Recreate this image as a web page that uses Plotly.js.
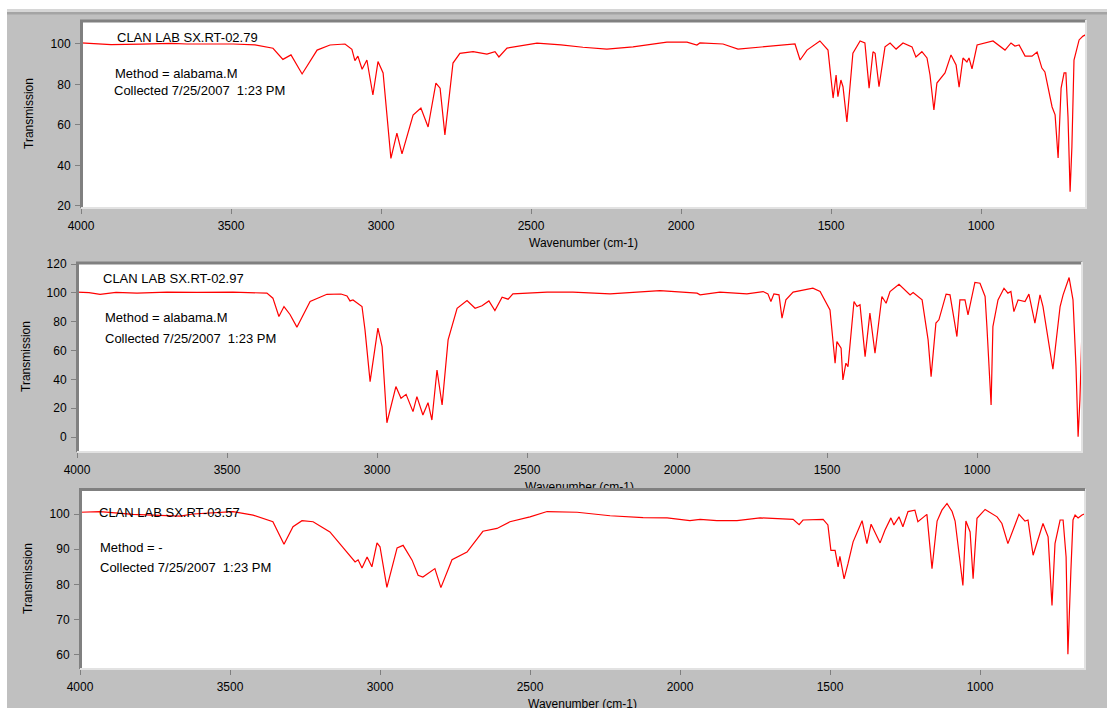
<!DOCTYPE html>
<html>
<head>
<meta charset="utf-8">
<script src="https://cdn.plot.ly/plotly-3.0.1.min.js"></script>
<style>html,body{margin:0;padding:0;background:#c0c0c0;}#chart{width:1107px;height:708px;}</style>
</head>
<body>
<div id="chart"></div>
<script>
// ---- Spectrum 1: CLAN LAB SX.RT-02.79 ----
const wn1 = [4000,3950,3900,3800,3700,3647,3550,3493,3420,3360,3327,3313,3300,3263,3213,3170,3120,3097,3087,3077,3063,3047,3027,3010,2993,2967,2947,2930,2893,2867,2843,2817,2803,2787,2760,2737,2693,2647,2620,2607,2580,2480,2400,2327,2247,2160,2047,1980,1947,1937,1860,1810,1713,1620,1603,1580,1537,1510,1493,1483,1477,1467,1460,1447,1427,1403,1387,1373,1360,1353,1340,1320,1303,1283,1260,1230,1217,1197,1180,1170,1157,1147,1120,1100,1083,1073,1060,1047,1040,1030,1013,960,920,900,887,873,853,830,813,797,787,763,753,743,733,723,717,710,703,697,690,673,660,652];
const tr1 = [100.6,100.2,99.7,99.9,100.3,100,100.2,100,99.6,97.9,92.4,93.7,94.6,85.2,97,99.5,100,97.4,91.8,94,87.5,92.1,74.8,91.3,85.7,43.5,56,45.7,64.9,68.4,59,80.7,78.2,55.1,90.6,95.4,96.2,95,96.2,93.6,98,100.4,99.6,98.4,97.5,98.6,100.9,100.9,99.5,100.5,100,97.5,98.6,100,92.1,97,101.5,97,73.3,84.7,74,82.2,78.9,61.5,95.4,101.5,100.5,78.2,96.2,95.4,78.9,98.6,100.5,97.5,100.5,98.6,93.6,96.2,93.1,84.7,67.4,80.7,85.7,94.6,89.6,78.7,93.1,91.1,93.1,87.7,99.5,101.5,97,100.5,99,99.5,94,94,96,88.1,86.2,68.9,65,43.7,78.2,85.7,85.7,64,27,49.3,92.1,102,103.9,104.5];

// ---- Spectrum 2: CLAN LAB SX.RT-02.97 ----
const wn2 = [4000,3960,3923,3870,3800,3700,3600,3480,3367,3347,3327,3310,3290,3267,3223,3167,3120,3100,3090,3080,3050,3040,3023,2997,2983,2967,2937,2920,2903,2880,2867,2847,2830,2817,2800,2783,2763,2733,2700,2673,2650,2627,2607,2583,2563,2547,2433,2347,2223,2057,1933,1923,1857,1767,1713,1697,1687,1677,1660,1650,1637,1613,1547,1523,1490,1480,1473,1467,1453,1447,1437,1430,1410,1400,1390,1373,1357,1340,1317,1303,1290,1260,1223,1213,1183,1163,1153,1137,1127,1103,1090,1077,1067,1057,1040,1030,1007,990,973,967,953,947,930,910,897,887,877,863,840,827,807,790,780,747,723,713,693,680,670,663,657,652,650];
const tr2 = [100.5,100.2,99,100.3,99.8,100.5,100.3,100.5,99.8,96.3,83.6,90.5,85,76.2,94,99,99.2,97.9,94.4,95.1,90.5,74.3,38.4,75.5,62.7,9.9,35,26.9,29.6,17.6,28,15.3,23.8,11.8,46.5,22.2,67.4,89.3,94.7,89.3,91,94.4,87.7,97,95.6,99.3,100.5,100.5,99.3,101.6,99.8,98.6,100.5,99.3,100.9,99.3,94,99.3,98.6,82.4,95.1,100.5,103.2,101,88.2,67.4,51.2,66.2,61.6,39.6,51.2,48.8,94,90.5,91.7,55.8,85.9,58.1,97.5,92.8,100.9,106,98.6,100.2,95.1,67.4,41.9,79,81.3,99.1,98.6,82.4,69.7,95.1,95.1,84.7,107.2,106.7,97.5,76.6,22.2,76.6,95.1,103.2,99.8,100.9,87,95.1,94,99.1,79,98.6,90.5,47,90.5,98.6,110.6,95.1,48.8,0.2,25.7,60,77.8];

// ---- Spectrum 3: CLAN LAB SX.RT-03.57 ----
const wn3 = [4000,3933,3823,3667,3623,3490,3423,3357,3320,3290,3260,3223,3167,3100,3083,3073,3060,3043,3027,3010,3000,2977,2943,2923,2893,2873,2857,2817,2797,2760,2710,2657,2610,2567,2500,2443,2343,2233,2123,2043,1967,1933,1877,1810,1733,1623,1603,1590,1523,1507,1497,1483,1473,1467,1453,1440,1423,1393,1377,1363,1333,1317,1297,1287,1270,1257,1240,1217,1207,1177,1160,1143,1127,1110,1093,1083,1073,1057,1047,1033,1023,1010,983,943,927,907,870,850,840,823,790,773,760,750,733,723,713,707,697,690,683,673,660,652];
const tr3 = [100.5,100.7,99.9,99.4,100,100.7,99.7,97.8,91.4,96.4,98.1,97.8,94.9,88.3,86.4,87,84.7,87.8,85,91.8,90.7,79.2,90.4,91.1,86.9,82.6,82.1,84.5,79.1,87,89.2,95.1,95.9,97.8,99.2,100.7,100.5,99.5,99,98.9,98.1,98.5,98.1,98.1,98.9,98.5,97,98.3,98.5,96.9,89.7,89.7,85,88,81.6,85.9,92.1,98.1,91.6,97.1,91.8,95.4,98.9,96.9,99.2,96.4,100.7,101.1,97.8,99.9,84.5,98,101.1,103,100.7,98,90.7,79.7,98,94.9,81.6,98.8,101.3,99.2,97.3,91.6,99.9,98,98.3,88.3,97.3,93.5,74,91.6,98.3,98.3,87.8,60.2,84,98.3,99.7,98.9,99.7,100];

const sampleNames = ["CLAN LAB SX.RT-02.79", "CLAN LAB SX.RT-02.97", "CLAN LAB SX.RT-03.57"];
const methods = ["Method = alabama.M", "Method = alabama.M", "Method = -"];
const collected = "Collected 7/25/2007\u00a0 1:23 PM";
const xTitle = "Wavenumber (cm-1)";
const yTitle = "Transmission";

// ---- layout geometry (pixels) ----
const W = 1107, H = 708;
const FONT = "Liberation Sans, Arial, sans-serif";
const panels = [
  {l: 81, r: 1086, t: 20, b: 208, yr: [19.0, 111.85], dtick: 20, ytx: 29, name: [115, 37], meth: [113, 73], coll: [112, 91]},
  {l: 77, r: 1082, t: 262, b: 452, yr: [-10.4, 121.4], dtick: 20, ytx: 26, name: [101, 278], meth: [103, 317], coll: [103, 338]},
  {l: 80, r: 1085, t: 489, b: 669, yr: [56.0, 107.1], dtick: 10, ytx: 28, name: [97, 512], meth: [98, 547], coll: [98, 567]}
];
const px = x => x / W;
const py = y => 1 - y / H;

const series = [[wn1, tr1], [wn2, tr2], [wn3, tr3]];
const data = series.map((s, i) => ({
  type: "scatter", mode: "lines", x: s[0], y: s[1],
  xaxis: i === 0 ? "x" : "x" + (i + 1), yaxis: i === 0 ? "y" : "y" + (i + 1),
  line: {color: "#ff0000", width: 1.2}, hoverinfo: "x+y", showlegend: false
}));

const layout = {
  width: W, height: H,
  margin: {l: 0, r: 0, t: 0, b: 0},
  paper_bgcolor: "#c0c0c0", plot_bgcolor: "#ffffff",
  font: {family: FONT, size: 12, color: "#000"},
  showlegend: false,
  shapes: [], annotations: []
};

// window chrome
layout.shapes.push({type: "rect", xref: "paper", yref: "paper", x0: 0, x1: 1, y0: py(9), y1: 1, fillcolor: "#ffffff", line: {width: 0}, layer: "below"});
layout.shapes.push({type: "rect", xref: "paper", yref: "paper", x0: 0, x1: px(7), y0: 0, y1: 1, fillcolor: "#ffffff", line: {width: 0}, layer: "below"});
layout.shapes.push({type: "rect", xref: "paper", yref: "paper", x0: px(7), x1: 1, y0: py(12), y1: py(9), fillcolor: "#d6d6d6", line: {width: 0}, layer: "below"});
layout.shapes.push({type: "rect", xref: "paper", yref: "paper", x0: px(7), x1: 1, y0: py(14.5), y1: py(12), fillcolor: "#a4a4a4", line: {width: 0}, layer: "below"});

panels.forEach((p, i) => {
  const sx = i === 0 ? "" : String(i + 1);
  layout["xaxis" + sx] = {
    domain: [px(p.l), px(p.r)], anchor: "y" + sx, range: [4000, 650],
    tick0: 0, dtick: 500, ticks: "outside", ticklen: 5, tickcolor: "#808080", tickwidth: 1,
    ticklabelstandoff: 2,
    showgrid: false, zeroline: false, showline: false,
    tickfont: {family: FONT, size: 12, color: "#000"}, fixedrange: true
  };
  layout["yaxis" + sx] = {
    domain: [py(p.b), py(p.t)], anchor: "x" + sx, range: p.yr,
    tick0: 0, dtick: p.dtick, ticks: "outside", ticklen: 5, tickcolor: "#808080", tickwidth: 1,
    ticklabelstandoff: 2,
    showgrid: false, zeroline: false, showline: false,
    tickfont: {family: FONT, size: 12, color: "#000"}, fixedrange: true
  };
  // inset frame
  layout.shapes.push({type: "line", xref: "paper", yref: "paper", x0: px(p.l - 1), x1: px(p.r), y0: py(p.t + 1), y1: py(p.t + 1), line: {color: "#808080", width: 3}, layer: "above"});
  layout.shapes.push({type: "line", xref: "paper", yref: "paper", x0: px(p.l + 0.5), x1: px(p.l + 0.5), y0: py(p.b), y1: py(p.t), line: {color: "#808080", width: 3}, layer: "above"});
  layout.shapes.push({type: "line", xref: "paper", yref: "paper", x0: px(p.r), x1: px(p.r), y0: py(p.b + 1), y1: py(p.t), line: {color: "#e2e2e2", width: 2}, layer: "above"});
  layout.shapes.push({type: "line", xref: "paper", yref: "paper", x0: px(p.l), x1: px(p.r + 1), y0: py(p.b), y1: py(p.b), line: {color: "#e2e2e2", width: 2}, layer: "above"});

  const txt = (t, pos, size) => ({
    text: t, xref: "paper", yref: "paper", x: px(pos[0]), y: py(pos[1]),
    xanchor: "left", yanchor: "middle", showarrow: false,
    font: {family: FONT, size: size, color: "#000"}
  });
  layout.annotations.push(txt(sampleNames[i], p.name, 13));
  layout.annotations.push(txt(methods[i], p.meth, 13));
  layout.annotations.push(txt(collected, p.coll, 13));
  // y title
  layout.annotations.push({
    text: yTitle, xref: "paper", yref: "paper", x: px(p.ytx), y: py((p.t + p.b) / 2),
    xanchor: "center", yanchor: "middle", textangle: -90, showarrow: false,
    font: {family: FONT, size: 12, color: "#000"}
  });
  // x title
  layout.annotations.push({
    text: xTitle, xref: "paper", yref: "paper", x: px((p.l + p.r) / 2), y: py(p.b + 35),
    xanchor: "center", yanchor: "middle", showarrow: false,
    font: {family: FONT, size: 12, color: "#000"}
  });
});

// panel 3 frame overlaps the lower half of panel 2's x-axis title
const p3 = panels[2];
layout.annotations.push({
  text: " ", xref: "paper", yref: "paper", x: px(p3.l - 1), y: py(p3.t - 1),
  xanchor: "left", yanchor: "top", width: p3.r - p3.l + 1, height: 3,
  bgcolor: "#808080", borderpad: 0, borderwidth: 0, showarrow: false, font: {size: 2}
});
layout.annotations.push({
  text: " ", xref: "paper", yref: "paper", x: px(p3.l + 2), y: py(p3.t + 2),
  xanchor: "left", yanchor: "top", width: p3.r - p3.l - 3, height: 6,
  bgcolor: "#ffffff", borderpad: 0, borderwidth: 0, showarrow: false, font: {size: 2}
});

Plotly.newPlot("chart", data, layout, {displayModeBar: false, staticPlot: true});
</script>
</body>
</html>
